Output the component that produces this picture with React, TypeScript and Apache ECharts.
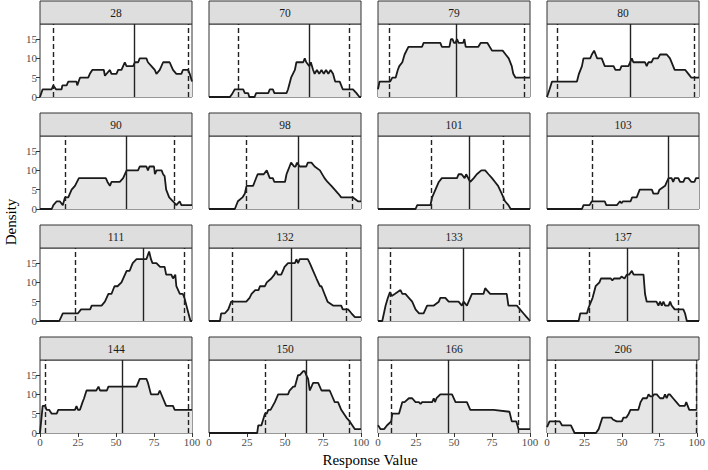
import React, { useEffect, useRef } from "react";
import * as echarts from "echarts";

// ---- data ----
const panelIds = ["28", "70", "79", "80", "90", "98", "101", "103", "111", "132", "133", "137", "144", "150", "166", "206"];

const lowerLines = [8.75, 19.5, 7.5, 6.5, 16.8, 24.7, 35, 29.8, 23.2, 15.5, 8.3, 27.8, 3.7, 37.2, 8.7, 5.3];
const medianLines = [62, 66, 51.3, 54.7, 57, 58.6, 60, 80, 67.8, 53.8, 56.3, 52.5, 54.3, 63.7, 45.9, 70.5];
const upperLines = [97.8, 92.5, 96.3, 97, 88, 94, 82.5, null, 94.7, 90, 93, 86.4, 97.4, 92, 92, 99.5];

const xTicks = [0, 25, 50, 75, 100];
const yTicks = [0, 5, 10, 15];

const p28 = [[0,0],[1.75,2],[7.7,2],[8.75,3],[10.5,2],[14.2,2],[14.7,3],[17.5,3],[18.6,4],[24,4],[24.5,3],[26.3,5],[31.7,5],[32.8,6],[34.4,7],[42,7],[42.7,5.5],[46,7],[47,6],[50.3,6],[51.4,7],[53.6,7],[54.7,8],[55.8,9],[56.9,8],[61.3,8],[62.4,9],[64.6,9],[65.6,10],[70,10],[71,9],[73.3,8],[75.5,7],[76.6,6],[78.8,7],[81,9],[85.3,9],[86.4,8],[87.5,7],[89.7,6],[93,6],[94,7],[97.4,7],[98.5,6],[100,4]];
const p70 = [[0,0],[13.8,0],[15.5,1],[17,2],[22.5,2],[23.6,1],[25.8,1],[26.5,0],[30,0],[31,1],[39,1],[40,2],[42,2],[43,1],[51,1],[52,2],[54,5],[56.5,7],[57.5,9],[62,9],[63,10],[64,9],[66,8],[67,9],[68.5,7],[69.5,6],[71,7],[72.5,6],[74,7],[75.5,6],[77,7],[78.5,6],[80,7],[81.6,6],[83,4],[86,4],[88,2],[94.7,2],[97,1],[99,0],[100,0]];
const p79 = [[0,2],[1,4],[8,4],[9.4,5],[11.6,5],[13,7],[14,8],[16,9],[17.5,11],[20,13],[29,13],[30,14],[41,14],[42,13],[47,13],[48,15],[49,15],[50,14],[51,14],[52,15],[53,14],[56,14],[56.8,15],[57.7,13],[66,13],[67.5,14],[72,14],[75,12],[82,12],[84,11],[86,10],[88,8],[89,6],[90.5,5],[100,5]];
const p80 = [[0,0],[1.7,2],[3.3,4],[19.7,4],[21,6],[23,8],[24,10],[28.4,10],[29.5,11],[31,12],[32,11],[33,10],[36,10],[38,8],[43.8,8],[45,7],[48,7],[49,8],[53.6,8],[55.8,10],[56.8,9],[64.5,9],[65.6,8],[66.7,9],[68.8,9],[70,10],[73,10],[74.4,11],[78.8,11],[80.9,10],[84,7],[91,7],[93,6],[95,5],[100,5]];
const p90 = [[0,0],[7.7,0],[8.8,1],[11,2],[13,2],[15,1],[16.4,3],[18.6,3],[20.8,5],[23,6],[25.6,8],[43.3,8],[44.4,7],[46,6],[47,7],[52.5,7],[54.7,8],[57,10],[64.5,10],[65.6,11],[70,11],[71,10],[72,11],[75,11],[75.6,9],[76.7,10],[80,10],[81,9],[82,8.5],[83,5],[85,3],[87.5,2],[89.7,1],[91.9,2],[93,1],[100,1]];
const p98 = [[0,0],[17,0],[19,2],[22,3],[23.6,4],[24.7,6],[29,6],[30,7],[32,9],[36,9],[38,10],[40,8],[42,8],[43,7],[50,7],[51,9],[52,10],[53,11],[54,12],[56,11],[57,11],[57.8,12],[59.7,11],[64,11],[65,12],[67.4,12],[69.5,11],[73,10],[76,8],[78,7],[80.5,6],[82.7,5],[85,4],[87,3],[94.7,3],[98,2],[100,2]];
const p101 = [[0,0],[24.7,0],[25.8,1],[34.5,1],[35.6,3],[37.8,5],[40,7],[42,8],[52,8],[53,9],[55,9],[57,8],[58,9],[60.7,7],[63,8],[65,9],[68,10],[70.5,10],[72.7,9],[75,8],[77,7],[79,6],[81.4,4],[83.6,2],[85.8,1],[87.3,0],[100,0]];
const p103 = [[0,0],[23,0],[24,1],[28,1],[29.5,2],[38,2],[39,1],[46,1],[47,1.5],[48,2],[49,1.5],[50,2],[55,2],[56,3],[59,3],[61,5],[69,5],[70,4],[73,4],[74,5],[77.7,6],[78.8,7],[80,8],[82,8],[83,7],[84,8],[86.4,8],[87.5,7],[89.7,7],[90.8,8],[93,8],[95,7],[97,7],[98,8],[100,8]];
const p111 = [[0,0],[12.7,0],[15,2],[25,2],[27,3],[33,3],[34,4],[40.5,4],[42.7,5],[45,7],[47,7],[49,9],[51,9],[53.6,10],[57,13],[59,13],[60,14],[61,15],[63.5,16],[70,16],[71.8,18],[73,16],[74,15],[76.6,15],[79,14],[82,14],[83,12],[86.4,12],[87.5,11],[89,12],[89.7,9],[92,7],[94,7],[95,6],[97,3],[99,0],[100,0]];
const p132 = [[0,0],[7.2,0],[8,2],[10.5,2],[12.7,3],[14.6,5],[24.5,5],[26.7,6],[28,7],[30.4,8],[32.6,8],[33.5,9],[36.8,9],[38,10],[41,11],[43,12],[44.2,13],[45.3,12],[47.5,12],[48.6,13],[49.7,14],[52,15],[56.6,15],[57.5,16],[58.6,15],[59.7,16],[65,16],[66.3,15],[68.5,13],[70.7,11],[73,9],[74,9],[76,7],[78,5],[81.6,4],[87,4],[88,3],[91.5,3],[93.7,2],[96,1],[100,1]];
const p133 = [[0,0],[2.8,0],[5,4],[6.5,6],[7.9,7.5],[9,6.5],[11,7],[14.8,8],[16,7],[18,7],[20.3,6],[22.5,5],[24.7,3],[27,2],[30,2],[32.3,4],[36.7,4],[40,5],[41,6],[44.3,6],[46.5,5],[53,5],[55.2,4],[56.3,5],[58.5,4],[61.8,7],[69.4,7],[70.5,8.5],[71.6,8],[73.8,7],[84.7,7],[85.8,4],[91.3,4],[93.4,3],[95.6,2],[97.8,1],[100,0]];
const p137 = [[0,0],[20.8,0],[21.9,2],[26.3,2],[27.4,3.5],[30,6],[32,9],[34.5,10],[35.5,11],[42,11],[43,10.5],[44,11],[48,11],[49,11.5],[51,11],[52.5,12],[54,12],[55.8,13],[57,12],[63.5,12],[64.5,7],[65.6,5],[72,5],[73.3,4],[74.4,5],[75.5,4],[76.6,5],[77.7,4],[80,4],[81,5],[82,4],[84,3],[89.7,3],[90.8,2],[92,0],[100,0]];
const p144 = [[0,0],[1.75,7],[3.3,7],[4.4,6],[6,6],[7.7,5],[11,5],[12,6],[23,6],[24,7],[25,6],[26.3,6],[28,8],[29,9],[30.6,11],[37,11],[38.5,12],[39.5,11],[44,11],[45,12],[63.5,12],[65.6,14],[70,14],[71,13],[73,10],[77.7,10],[78.8,11],[80.9,9],[83,7],[87.5,7],[88.6,6],[100,6]];
const p150 = [[0,0],[31.7,0],[32.4,2],[34.5,2],[36.8,5],[38,5],[39,6],[40.5,6],[43.3,8],[45.5,10],[52,10],[53,11],[55.4,12],[56.5,12],[58.6,15],[59.7,15],[62,16],[63,16],[64,15],[65.2,14],[66.3,11],[68.5,13],[71.8,13],[74,11],[79.4,11],[81.6,9],[82.7,8],[84.9,8],[87,6],[90.4,4],[92.6,3],[96,1],[100,1]];
const p166 = [[0,2],[1.7,1],[4,1],[6,2],[8.7,3],[9.4,5],[13.8,5],[16,8],[17.5,8],[20.3,9],[22.5,9],[24.7,8],[26.9,8],[28,7.5],[29,8],[35.6,8],[36.7,9],[37.5,8],[38.5,9],[41,10],[48.7,10],[51,8],[58.5,8],[60.7,6],[76,6],[86.5,5.5],[88,3],[91,3],[92.5,1],[100,1]];
const p206 = [[0,1.5],[1.7,3],[8.5,3],[10,2],[16,2],[18.4,0],[32.7,0],[34.5,1],[37,4],[43,4],[44,3.5],[46.5,3],[50,3],[51,4],[53,4],[54.6,5],[55.7,6],[61,6],[62.5,8],[64,9],[66.7,9],[67.8,10],[69,9.5],[70.5,9.5],[71.5,10],[73.3,10],[75.5,9],[77.7,9],[78.8,10],[79.9,9],[81,10],[82,10],[84.2,9],[86.4,8],[88.6,7],[92,7],[93,8],[95,6],[98.5,6],[100,6]];

const curves = [p28, p70, p79, p80, p90, p98, p101, p103, p111, p132, p133, p137, p144, p150, p166, p206];

// ---- layout ----
const COL_LEFT = [40, 209, 378, 547];
const ROW_TOP = [24, 136, 248, 360];
const PW = 152;
const PH = 73;
const STRIP_H = 23;
const Y_MAX = 18.9;
const FONT = "Liberation Serif";

function buildOption() {
  const grid: any[] = [];
  const xAxis: any[] = [];
  const yAxis: any[] = [];
  const series: any[] = [];
  const graphic: any[] = [];

  panelIds.forEach((id, i) => {
    const r = Math.floor(i / 4);
    const c = i % 4;
    const left = COL_LEFT[c];
    const top = ROW_TOP[r];
    grid.push({
      left, top, width: PW, height: PH,
      show: true, borderColor: "#333333", borderWidth: 1, backgroundColor: "#ffffff",
    });
    xAxis.push({
      type: "value", gridIndex: i, min: 0, max: 100, interval: 25,
      axisLine: { show: false },
      axisTick: { show: r === 3, length: 4, lineStyle: { color: "#333333", width: 1 }, customValues: xTicks },
      axisLabel: { show: r === 3, color: "#4d4d4d", fontFamily: FONT, fontSize: 11, margin: 3, customValues: xTicks },
      splitLine: { show: false },
    });
    yAxis.push({
      type: "value", gridIndex: i, min: 0, max: Y_MAX,
      axisLine: { show: false },
      axisTick: { show: c === 0, length: 4, lineStyle: { color: "#333333", width: 1 }, customValues: yTicks },
      axisLabel: { show: c === 0, color: "#4d4d4d", fontFamily: FONT, fontSize: 11, margin: 3, customValues: yTicks },
      splitLine: { show: false },
    });
    const vlines: any[] = [
      { xAxis: lowerLines[i], lineStyle: { type: [5, 3], color: "#222222", width: 1.4 } },
      { xAxis: medianLines[i], lineStyle: { type: "solid", color: "#222222", width: 1.4 } },
    ];
    if (upperLines[i] != null) {
      vlines.push({ xAxis: upperLines[i], lineStyle: { type: [5, 3], color: "#222222", width: 1.4 } });
    }
    series.push({
      type: "line",
      xAxisIndex: i, yAxisIndex: i,
      data: curves[i],
      showSymbol: false, symbol: "none",
      lineStyle: { color: "#1a1a1a", width: 1.8 },
      areaStyle: { color: "#e6e6e6", opacity: 1 },
      emphasis: { disabled: true },
      silent: true,
      markLine: {
        silent: true,
        symbol: ["none", "none"],
        label: { show: false },
        lineStyle: { color: "#222222", width: 1.4 },
        data: vlines,
      },
    });
    graphic.push({
      type: "rect",
      shape: { x: left, y: top - STRIP_H, width: PW, height: STRIP_H },
      style: { fill: "#dedede", stroke: "#333333", lineWidth: 1 },
      silent: true,
    });
    graphic.push({
      type: "text",
      x: left + PW / 2,
      y: top - STRIP_H / 2,
      style: {
        text: id, fill: "#1a1a1a", fontFamily: FONT, fontSize: 11.5,
        align: "center", verticalAlign: "middle", textAlign: "center", textVerticalAlign: "middle",
      },
      silent: true,
    });
  });

  graphic.push({
    type: "text",
    x: 11, y: 222, rotation: Math.PI / 2,
    style: {
      text: "Density", fill: "#000000", fontFamily: FONT, fontSize: 15,
      align: "center", verticalAlign: "middle", textAlign: "center", textVerticalAlign: "middle",
    },
    silent: true,
  });
  graphic.push({
    type: "text",
    x: 370, y: 460,
    style: {
      text: "Response Value", fill: "#000000", fontFamily: FONT, fontSize: 15,
      align: "center", verticalAlign: "middle", textAlign: "center", textVerticalAlign: "middle",
    },
    silent: true,
  });

  return {
    animation: false,
    backgroundColor: "#ffffff",
    grid, xAxis, yAxis, series, graphic,
  };
}

export default function App() {
  const ref = useRef<HTMLDivElement | null>(null);
  useEffect(() => {
    if (!ref.current) return;
    const chart = echarts.init(ref.current, undefined, { renderer: "svg" });
    chart.setOption(buildOption() as any);
    return () => chart.dispose();
  }, []);
  return (
    <div
      ref={ref}
      style={{ position: "absolute", left: 0, top: 0, width: 708, height: 470 }}
    />
  );
}
